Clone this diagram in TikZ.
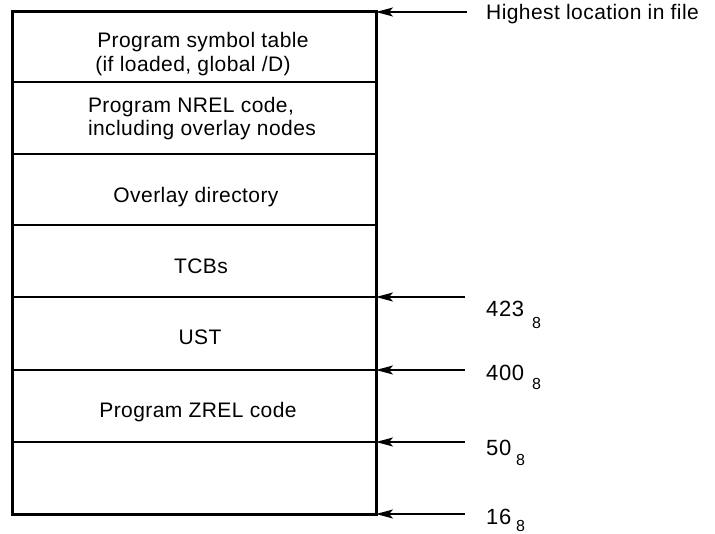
\documentclass[tikz,border=0pt]{standalone}
\usepackage{fontspec}
\setmainfont{Liberation Sans}[LetterSpace=2]
\newfontfamily\numfont{Liberation Sans}[LetterSpace=3]
\usetikzlibrary{arrows.meta}
\begin{document}
\begin{tikzpicture}[x=1pt,y=-1pt,
  lab/.style={font=\fontsize{21}{25}\selectfont, inner sep=0pt, anchor=base},
  toplab/.style={font=\fontsize{21}{25}\selectfont, inner sep=0pt, anchor=base west},
  num/.style={font=\numfont\fontsize{22}{26}\selectfont, inner sep=0pt, anchor=base west},
  subnum/.style={font=\numfont\fontsize{16}{19}\selectfont, inner sep=0pt, anchor=base west},
  ptr/.style={line width=1.2pt, -{Stealth[length=17pt,width=9pt,inset=4pt]}},
  outer/.style={line width=3pt},
  divider/.style={line width=1.6pt}]
\useasboundingbox (0,0) rectangle (715,534);
\fill[white] (0,0) rectangle (715,534);

% box edge coordinates
\coordinate (e0) at (376,12);
\coordinate (e4) at (376,297);
\coordinate (e5) at (376,370);
\coordinate (e6) at (376,442);
\coordinate (e7) at (376,514);

% dividers
\foreach \yy in {82,154,225,297,370,442}
  \draw[divider] (12,\yy) -- (376,\yy);
% outer box
\draw[outer] (12,12) rectangle (376,514);

% cell texts
\node[lab] (l1a) at (203,48) {Program symbol table};
\node[lab] (l1b) at (193,72) {(if loaded, global /D)};
\node[lab] (l2a) at (191,113) {Program NREL code,};
\node[lab] (l2b) at (202,136) {including overlay nodes};
\node[lab] (l3) at (196,203) {Overlay directory};
\node[lab] (l4) at (201,274) {TCBs};
\node[lab] (l5) at (200,345) {UST};
\node[lab] (l6) at (198,418) {Program ZREL code};

% pointer free ends
\coordinate (p0) at (467,12);
\coordinate (p4) at (465,297);
\coordinate (p5) at (465,370);
\coordinate (p6) at (465,442);
\coordinate (p7) at (465,514);

\draw[ptr] (p0) -- (e0);
\draw[ptr] (p4) -- (e4);
\draw[ptr] (p5) -- (e5);
\draw[ptr] (p6) -- (e6);
\draw[ptr] (p7) -- (e7);

% labels
\node[toplab] (hl) at (486,20) {Highest location in file};
\node[num] (n423) at (486,317) {423};
\node[subnum] (s423) at (532,329) {8};
\node[num] (n400) at (486,381) {400};
\node[subnum] (s400) at (532,390) {8};
\node[num] (n50) at (486,455) {50};
\node[subnum] (s50) at (516,465) {8};
\node[num] (n16) at (486,524) {16};
\node[subnum] (s16) at (516,531) {8};
\end{tikzpicture}
\end{document}
